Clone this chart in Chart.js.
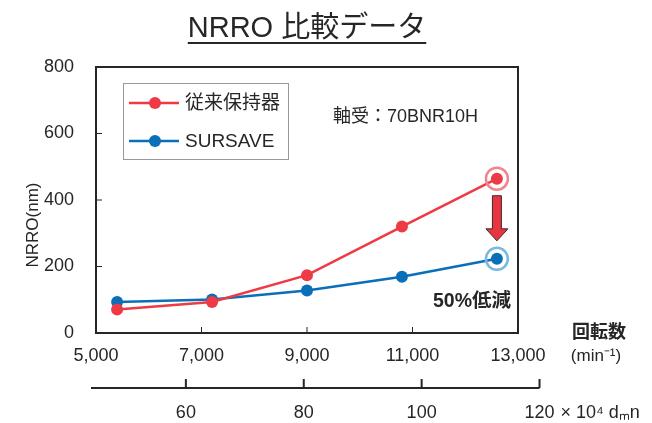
<!DOCTYPE html>
<html>
<head>
<meta charset="utf-8">
<script src="https://cdn.jsdelivr.net/npm/chart.js@4"></script>
<style>
  html, body { margin: 0; padding: 0; background: #fff; }
  #wrap { width: 652px; height: 423px; }
</style>
</head>
<body>
<div id="wrap"><canvas id="nrro-chart" width="652" height="423"></canvas></div>
<script>
// rotational speed (min^-1) and NRRO (nm)
const speeds = [5400, 7200, 9000, 10800, 12600];
const conventional = [71, 93, 174, 320, 464];   // 従来保持器
const sursave = [93, 101, 128, 169, 223];       // SURSAVE
const speedTicks = [5000, 7000, 9000, 11000, 13000];
const nrroTicks = [0, 200, 400, 600, 800];
const dmnTicks = [60, 80, 100, 120];            // x10^4 dmn
const pitchDia = 89.5;                          // mm, for dmn -> min^-1

const RED = '#ee3a44';
const BLUE = '#0a6fb9';
const TEXT = '#262626';
const FONT = "'Liberation Sans', 'Noto Sans CJK JP', sans-serif";

Chart.defaults.font.family = FONT;
Chart.defaults.color = TEXT;

function toPoints(values) {
    return speeds.map((s, i) => ({ x: s, y: values[i] }));
}

function line(ctx, x1, y1, x2, y2) {
    ctx.beginPath();
    ctx.moveTo(x1, y1);
    ctx.lineTo(x2, y2);
    ctx.stroke();
}

const decorations = {
    id: 'decorations',
    afterDraw(chart) {
        const { ctx, chartArea: a, scales: { x, y } } = chart;
        ctx.save();

        // plot frame
        ctx.strokeStyle = TEXT;
        ctx.lineWidth = 2;
        ctx.strokeRect(a.left, a.top, a.right - a.left, a.bottom - a.top);

        // inward ticks
        ctx.lineWidth = 1;
        speedTicks.slice(1, -1).forEach(v => {
            const px = x.getPixelForValue(v);
            line(ctx, px, a.bottom, px, a.bottom - 6);
        });
        nrroTicks.slice(1, -1).forEach(v => {
            const py = y.getPixelForValue(v);
            line(ctx, a.left, py, a.left + 6, py);
        });

        // highlight rings on the last points + arrow
        const redPts = chart.getDatasetMeta(0).data;
        const bluePts = chart.getDatasetMeta(1).data;
        const r = redPts[redPts.length - 1];
        const b = bluePts[bluePts.length - 1];
        ctx.lineWidth = 2.5;
        ctx.strokeStyle = '#f0868c';
        ctx.beginPath(); ctx.arc(r.x, r.y, 11, 0, Math.PI * 2); ctx.stroke();
        ctx.strokeStyle = '#79b8e0';
        ctx.beginPath(); ctx.arc(b.x, b.y, 11, 0, Math.PI * 2); ctx.stroke();

        const top = r.y + 17, bottom = b.y - 18, headH = 12;
        ctx.beginPath();
        ctx.moveTo(r.x - 4.5, top);
        ctx.lineTo(r.x + 4.5, top);
        ctx.lineTo(r.x + 4.5, bottom - headH);
        ctx.lineTo(r.x + 11, bottom - headH);
        ctx.lineTo(r.x, bottom);
        ctx.lineTo(r.x - 11, bottom - headH);
        ctx.lineTo(r.x - 4.5, bottom - headH);
        ctx.closePath();
        ctx.fillStyle = '#e8343e';
        ctx.fill();
        ctx.lineWidth = 1;
        ctx.strokeStyle = '#3a2a2a';
        ctx.stroke();

        // legend box
        ctx.strokeStyle = '#999';
        ctx.strokeRect(123.5, 83.5, 165, 76);
        [[RED, '従来保持器', 103], [BLUE, 'SURSAVE', 141]].forEach(([c, label, ly]) => {
            ctx.strokeStyle = c;
            ctx.lineWidth = 2.5;
            line(ctx, 129, ly, 179, ly);
            ctx.fillStyle = c;
            ctx.beginPath(); ctx.arc(155, ly, 6, 0, Math.PI * 2); ctx.fill();
            ctx.fillStyle = TEXT;
            ctx.font = '19px ' + FONT;
            ctx.textAlign = 'left';
            ctx.textBaseline = 'middle';
            ctx.fillText(label, 185, ly + 1);
        });

        // title with underline
        ctx.fillStyle = TEXT;
        ctx.font = '29px ' + FONT;
        ctx.textAlign = 'center';
        ctx.textBaseline = 'alphabetic';
        const title = 'NRRO 比較データ';
        ctx.fillText(title, 307, 37);
        const tw = ctx.measureText(title).width;
        ctx.strokeStyle = TEXT;
        ctx.lineWidth = 2;
        line(ctx, 307 - tw / 2, 43, 307 + tw / 2, 43);

        // annotations
        ctx.textBaseline = 'middle';
        ctx.font = '18px ' + FONT;
        ctx.textAlign = 'left';
        ctx.fillText('軸受：70BNR10H', 333, 117);
        ctx.font = '600 19.5px ' + FONT;
        ctx.textAlign = 'right';
        ctx.fillText('50%低減', 511, 302);

        // x axis unit
        ctx.textAlign = 'center';
        ctx.font = '600 18px ' + FONT;
        ctx.fillText('回転数', 599, 333);
        ctx.font = '17px ' + FONT;
        ctx.fillText('(min⁻¹)', 596, 356);

        // y axis title
        ctx.save();
        ctx.translate(33, 225);
        ctx.rotate(-Math.PI / 2);
        ctx.font = '17px ' + FONT;
        ctx.fillText('NRRO(nm)', 0, 0);
        ctx.restore();

        // secondary dmn axis
        const dmnPx = v => x.getPixelForValue(v * 1e4 / pitchDia);
        const ay = 388;
        ctx.strokeStyle = TEXT;
        ctx.lineWidth = 2;
        line(ctx, a.left - 5, ay, dmnPx(dmnTicks[dmnTicks.length - 1]), ay);
        ctx.font = '18px ' + FONT;
        dmnTicks.forEach(v => {
            const px = dmnPx(v);
            line(ctx, px, ay, px, ay - 9);
            ctx.fillText(String(v), px, 413);
        });
        ctx.textAlign = 'left';
        ctx.fillText('× 10⁴ dₘn', dmnPx(120) + 21, 413);

        ctx.restore();
    }
};

new Chart(document.getElementById('nrro-chart'), {
    type: 'line',
    data: {
        datasets: [{
            label: '従来保持器',
            data: toPoints(conventional),
            borderColor: RED,
            backgroundColor: RED,
            borderWidth: 2.5,
            pointRadius: 6,
            pointBorderWidth: 0,
            pointBackgroundColor: RED
        }, {
            label: 'SURSAVE',
            data: toPoints(sursave),
            borderColor: BLUE,
            backgroundColor: BLUE,
            borderWidth: 2.5,
            pointRadius: 6,
            pointBorderWidth: 0,
            pointBackgroundColor: BLUE
        }]
    },
    options: {
        responsive: false,
        animation: false,
        layout: { padding: { top: 67, right: 134, left: 0, bottom: 0 } },
        plugins: {
            legend: { display: false },
            tooltip: { enabled: false }
        },
        scales: {
            x: {
                type: 'linear',
                min: 5000,
                max: 13000,
                afterBuildTicks: s => { s.ticks = speedTicks.map(v => ({ value: v })); },
                afterFit: s => { s.height = 90; },
                ticks: {
                    font: { size: 18 },
                    color: TEXT,
                    padding: 12,
                    maxRotation: 0,
                    callback: v => v.toLocaleString('en-US')
                },
                grid: { display: false, drawTicks: false },
                border: { display: false }
            },
            y: {
                min: 0,
                max: 800,
                afterBuildTicks: s => { s.ticks = nrroTicks.map(v => ({ value: v })); },
                afterFit: s => { s.width = 96; },
                ticks: { font: { size: 18 }, color: TEXT, padding: 22 },
                grid: { display: false, drawTicks: false },
                border: { display: false }
            }
        }
    },
    plugins: [decorations]
});
</script>
</body>
</html>
